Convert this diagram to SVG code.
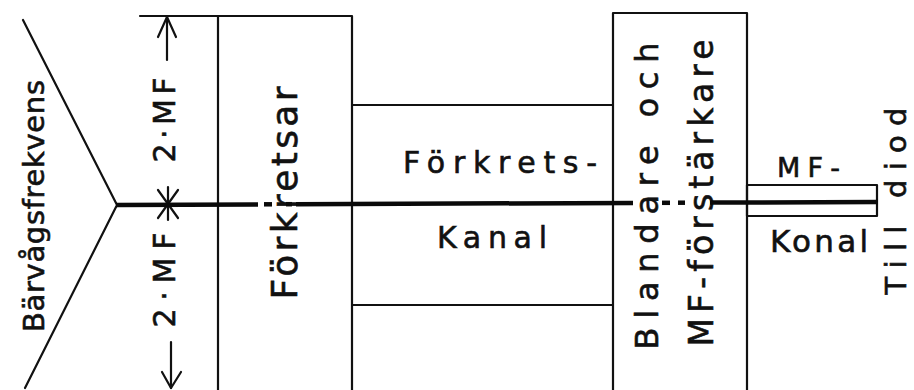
<svg xmlns="http://www.w3.org/2000/svg" width="914" height="390" viewBox="0 0 914 390">
<style>
.ln{stroke:#111;stroke-width:2.2;fill:none;stroke-linecap:round;stroke-linejoin:round}
.sig{stroke:#0a0a0a;stroke-width:4.5;fill:none}
.t{font-family:"DejaVu Sans","Liberation Sans",sans-serif;fill:#111;stroke:#111;stroke-width:0.6}
</style>
<rect width="914" height="390" fill="#fff"/>
<g id="barvagsfrekvens">
<polyline class="ln" points="23,20 117,205 25,388"/>
<text class="t" font-size="29" text-anchor="middle" textLength="252" lengthAdjust="spacing" transform="translate(44,206) rotate(-90)">Bärvågsfrekvens</text>
</g>
<g id="dimension">
<line class="ln" x1="140" y1="16" x2="218" y2="16"/>
<line class="ln" x1="167" y1="17" x2="167" y2="60"/>
<polyline class="ln" points="158,37 167,17 176,37"/>
<line class="ln" x1="171" y1="342" x2="171" y2="388"/>
<polyline class="ln" points="162,372 171,388 181,372"/>
<line class="ln" x1="158" y1="190" x2="178" y2="218"/>
<line class="ln" x1="178" y1="190" x2="158" y2="218"/>
<line class="ln" x1="168" y1="187" x2="168" y2="220"/>
<text class="t" font-size="30" text-anchor="middle" textLength="85" lengthAdjust="spacing" transform="translate(175,120) rotate(-90)">2·MF</text>
<text class="t" font-size="30" text-anchor="middle" textLength="95" lengthAdjust="spacing" transform="translate(175,280) rotate(-90)">2·MF</text>
</g>
<g id="forkretsar">
<rect class="ln" x="218" y="16" width="134" height="380"/>
<text class="t" font-size="36" text-anchor="middle" textLength="213" lengthAdjust="spacing" transform="translate(297,193) rotate(-90)">Förkretsar</text>
</g>
<g id="forkrets-kanal">
<line class="ln" x1="352" y1="105" x2="613" y2="105"/>
<line class="ln" x1="352" y1="305" x2="613" y2="305"/>
<text class="t" font-size="30" x="403" y="173" textLength="194" lengthAdjust="spacing">Förkrets-</text>
<text class="t" font-size="30" x="437" y="248" textLength="110" lengthAdjust="spacing">Kanal</text>
</g>
<g id="blandare">
<rect class="ln" x="613" y="13" width="134" height="383"/>
<text class="t" font-size="32" text-anchor="middle" textLength="307" lengthAdjust="spacing" transform="translate(658,196) rotate(-90)">Blandare och</text>
<text class="t" font-size="33" text-anchor="middle" textLength="307" lengthAdjust="spacing" transform="translate(713,193) rotate(-90)">MF-förstärkare</text>
</g>
<g id="mf-kanal">
<rect class="ln" x="747" y="185" width="130" height="31"/>
<text class="t" font-size="27" x="777" y="177" textLength="63" lengthAdjust="spacing">MF-</text>
<text class="t" font-size="31" x="770" y="252" textLength="98" lengthAdjust="spacing">Konal</text>
</g>
<g id="till-diod">
<text class="t" font-size="29" text-anchor="middle" textLength="187" lengthAdjust="spacing" transform="translate(906,201) rotate(-90)">Till diod</text>
</g>
<g id="connectors">
<line class="sig" x1="116" y1="205" x2="258" y2="204.4"/>
<line class="sig" x1="264" y1="204.3" x2="272" y2="204.3"/>
<line class="sig" x1="286" y1="204.2" x2="292" y2="204.2"/>
<line class="sig" x1="296" y1="204.2" x2="633" y2="202.9"/>
<line class="sig" x1="662" y1="202.8" x2="670" y2="202.8"/>
<line class="sig" x1="678" y1="202.7" x2="685" y2="202.7"/>
<line class="sig" x1="710" y1="202.6" x2="878" y2="202"/>
</g>
</svg>
